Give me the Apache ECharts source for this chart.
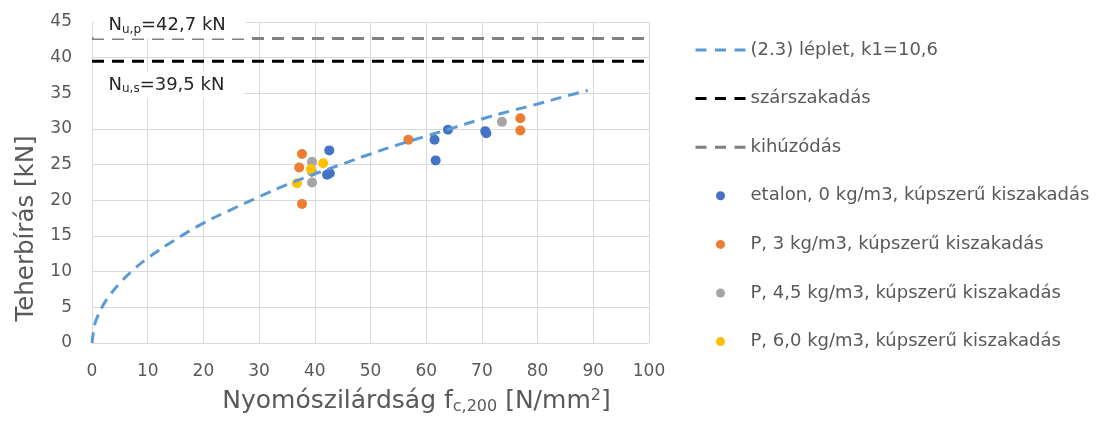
<!DOCTYPE html>
<html>
<head>
<meta charset="utf-8">
<script src="https://cdn.jsdelivr.net/npm/echarts@6/dist/echarts.min.js"></script>
<style>
html, body { margin: 0; padding: 0; background: #fff; }
#chart { width: 1101px; height: 425px; }
</style>
</head>
<body>
<div id="chart"></div>
<script>
const fontFamily = 'DejaVu Sans';

// (2.3) léplet curve
const curveX = [0, 0.5, 1, 2, 3, 5, 7.5, 10, 15, 20, 25, 30, 35, 40, 45, 50, 55, 60, 65, 70, 75, 80, 85, 89];
const curveY = [0, 2.6, 3.7, 5.3, 6.5, 8.4, 10.3, 11.9, 14.5, 16.8, 18.7, 20.5, 22.2, 23.7, 25.1, 26.5, 27.8, 29.0, 30.2, 31.4, 32.5, 33.5, 34.6, 35.4];

// horizontal limits
const limitX = [0, 100];
const splitLoad = 39.5;   // szárszakadás
const pullLoad = 42.7;    // kihúzódás

// measured points
const etalonX = [42.6, 42.2, 42.7, 61.5, 61.7, 63.9, 70.6, 70.8];
const etalonY = [27.0, 23.6, 23.8, 28.5, 25.6, 29.9, 29.7, 29.4];
const p3X = [37.7, 37.2, 37.7, 56.8, 76.9, 76.9];
const p3Y = [26.5, 24.6, 19.5, 28.5, 31.5, 29.8];
const p45X = [39.5, 39.5, 39.5, 73.6];
const p45Y = [25.4, 24.0, 22.5, 31.0];
const p6X = [41.5, 39.3, 36.8];
const p6Y = [25.2, 24.4, 22.4];

const xTicks = { min: 0, max: 100, interval: 10 };
const yTicks = { min: 0, max: 45, interval: 5 };

const pairs = (xs, ys) => xs.map((x, i) => [x, ys[i]]);

const names = [
  '(2.3) léplet, k1=10,6',
  'szárszakadás',
  'kihúzódás',
  'etalon, 0 kg/m3, kúpszerű kiszakadás',
  'P, 3 kg/m3, kúpszerű kiszakadás',
  'P, 4,5 kg/m3, kúpszerű kiszakadás',
  'P, 6,0 kg/m3, kúpszerű kiszakadás'
];

const labelRich = {
  n: { fontSize: 18, color: '#262626', fontFamily: fontFamily },
  s: { fontSize: 12, color: '#262626', fontFamily: fontFamily, padding: [8, 0, 0, 0] }
};

function limitMark (value, text, offsetY) {
  return {
    symbol: 'circle',
    symbolSize: 1,
    itemStyle: { color: 'rgba(0,0,0,0)' },
    silent: true,
    data: [{ coord: [limitX[0], value] }],
    label: {
      show: true,
      position: 'right',
      distance: 1,
      offset: [0, offsetY],
      backgroundColor: '#fff',
      padding: [3, 20, 3, 15],
      formatter: text,
      rich: labelRich
    }
  };
}

function scatter (name, xs, ys, color) {
  return {
    name: name,
    type: 'scatter',
    symbol: 'circle',
    symbolSize: 10,
    itemStyle: { color: color, opacity: 1 },
    data: pairs(xs, ys)
  };
}

// line items in the legend show only the dashed line
const legendData = names.map((n, i) => i < 3 ? { name: n, itemStyle: { opacity: 0 } } : { name: n });

const chart = echarts.init(document.getElementById('chart'));
chart.setOption({
  animation: false,
  textStyle: { fontFamily: fontFamily },
  grid: { left: 92, right: 452, top: 22, bottom: 82 },
  legend: {
    orient: 'vertical',
    left: 689,
    top: 35,
    itemWidth: 50,
    itemHeight: 9,
    itemGap: 28.6,
    data: legendData,
    lineStyle: { width: 3, type: [11, 8.5] },
    textStyle: { fontSize: 18, color: '#595959', lineHeight: 20, fontFamily: fontFamily }
  },
  xAxis: {
    type: 'value',
    min: xTicks.min,
    max: xTicks.max,
    interval: xTicks.interval,
    name: '{t|Nyomószilárdság f}{s|c,200}{t| [N/mm}{p|2}{t|]}',
    nameLocation: 'middle',
    nameGap: 45,
    nameTextStyle: {
      padding: [0, 0, 0, 92],
      rich: {
        t: { fontSize: 25, color: '#595959', fontFamily: fontFamily },
        s: { fontSize: 16, color: '#595959', fontFamily: fontFamily, padding: [11, 0, 0, 0] },
        p: { fontSize: 16, color: '#595959', fontFamily: fontFamily, padding: [0, 0, 11, 0] }
      }
    },
    axisLine: { show: true, lineStyle: { color: '#d9d9d9', width: 1 } },
    axisTick: { show: false },
    axisLabel: { fontSize: 17, color: '#595959', margin: 20 },
    splitLine: { show: true, lineStyle: { color: '#d9d9d9', width: 1 } }
  },
  yAxis: {
    type: 'value',
    min: yTicks.min,
    max: yTicks.max,
    interval: yTicks.interval,
    name: 'Teherbírás [kN]',
    nameLocation: 'middle',
    nameGap: 53,
    nameTextStyle: { fontSize: 24.5, color: '#595959', padding: [0, 92, 0, 0] },
    axisLine: { show: false },
    axisTick: { show: false },
    axisLabel: { fontSize: 17, color: '#595959', margin: 20 },
    splitLine: { show: true, lineStyle: { color: '#d9d9d9', width: 1 } }
  },
  series: [
    {
      name: names[0],
      type: 'line',
      symbol: 'none',
      smooth: true,
      lineStyle: { color: '#5b9bd5', width: 3, type: [11, 7] },
      itemStyle: { color: '#5b9bd5' },
      data: pairs(curveX, curveY)
    },
    {
      name: names[1],
      type: 'line',
      symbol: 'none',
      lineStyle: { color: '#000', width: 3, type: [12, 8] },
      itemStyle: { color: '#000' },
      data: limitX.map(x => [x, splitLoad]),
      markPoint: limitMark(splitLoad, '{n|N}{s|u,s}{n|=39,5 kN}', 24)
    },
    {
      name: names[2],
      type: 'line',
      symbol: 'none',
      lineStyle: { color: '#808080', width: 3, type: [12, 8] },
      itemStyle: { color: '#808080' },
      data: limitX.map(x => [x, pullLoad]),
      markPoint: limitMark(pullLoad, '{n|N}{s|u,p}{n|=42,7 kN}', -13)
    },
    scatter(names[3], etalonX, etalonY, '#4472c4'),
    scatter(names[4], p3X, p3Y, '#ed7d31'),
    scatter(names[5], p45X, p45Y, '#a5a5a5'),
    scatter(names[6], p6X, p6Y, '#ffc000')
  ]
});
</script>
</body>
</html>
